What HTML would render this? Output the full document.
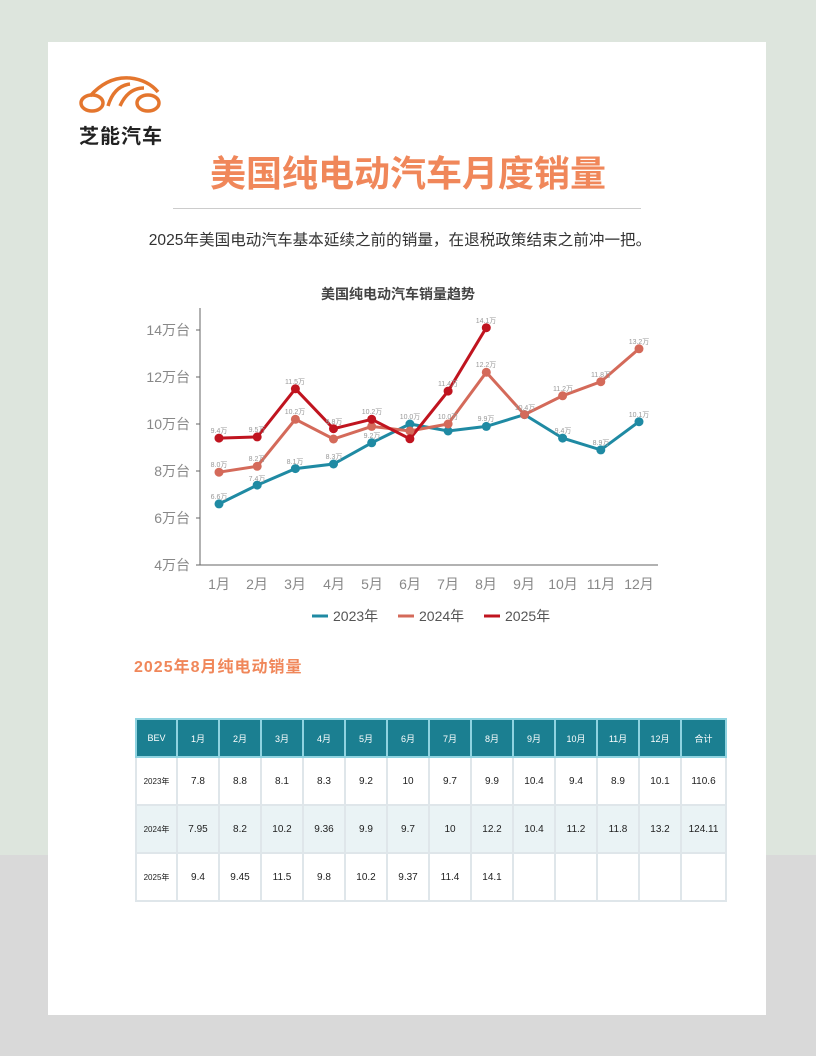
<!DOCTYPE html><html><head><meta charset="utf-8"><style>
body{margin:0;width:816px;height:1056px;position:relative;background:#dde5dd;font-family:"Liberation Sans","Noto Sans CJK SC",sans-serif;overflow:hidden}
.bot{position:absolute;left:0;top:855px;width:816px;height:201px;background:#d9d9d9}
.card{position:absolute;left:48px;top:42px;width:718px;height:973px;background:#fff}
.abs{position:absolute}
table{border-collapse:collapse;table-layout:fixed;position:absolute;left:135px;top:718px;width:590px;font-size:10px;text-align:center}
td{border:2px solid #dfe6ea;padding:0;color:#222}
tr.h td{background:#1b7f91;color:#fff;height:36px;border-color:#8fd3e0;font-size:9px}
tr.r td{height:46px}
tr.g td{background:#eaf3f5}
td.f{font-size:8px}
</style></head><body>
<div class="bot"></div>
<div class="card"></div>
<svg class="abs" style="left:78px;top:74px" width="85" height="40" viewBox="0 0 85 40">
<g fill="none" stroke="#e4762e" stroke-width="3.5">
<path d="M12 22 Q30 2 52 4 Q70 6 80 18"/>
<ellipse cx="14" cy="29" rx="11" ry="8"/><ellipse cx="70" cy="29" rx="11" ry="8"/>
<path d="M30 32 Q36 12 52 10"/><path d="M42 32 Q50 14 66 14"/>
</g></svg>
<div class="abs" style="left:79px;top:120px;font-size:20px;font-weight:bold;color:#222;letter-spacing:1px">芝能汽车</div>
<div class="abs" style="left:0;width:816px;top:145px;text-align:center;font-size:36px;font-weight:bold;color:#f0875a">美国纯电动汽车月度销量</div>
<div class="abs" style="left:173px;top:208px;width:468px;height:1px;background:#ccc"></div>
<div class="abs" style="left:0;width:800px;top:228px;text-align:center;font-size:15.6px;color:#333">2025年美国电动汽车基本延续之前的销量，在退税政策结束之前冲一把。</div>
<svg class="abs" style="left:0;top:0" width="816" height="660">
<text x="398" y="299" text-anchor="middle" font-size="14" font-weight="bold" fill="#444">美国纯电动汽车销量趋势</text>
<g stroke="#666" stroke-width="1"><line x1="200" y1="308" x2="200" y2="565"/><line x1="200" y1="565" x2="658" y2="565"/>
<line x1="196" y1="330" x2="200" y2="330"/><line x1="196" y1="377" x2="200" y2="377"/><line x1="196" y1="424" x2="200" y2="424"/><line x1="196" y1="471" x2="200" y2="471"/><line x1="196" y1="518" x2="200" y2="518"/><line x1="196" y1="565" x2="200" y2="565"/></g>
<g font-size="14" fill="#888" text-anchor="end"><text x="190" y="335">14万台</text><text x="190" y="382">12万台</text><text x="190" y="429">10万台</text><text x="190" y="476">8万台</text><text x="190" y="523">6万台</text><text x="190" y="570">4万台</text></g>
<g font-size="14" fill="#888" text-anchor="middle"><text x="219" y="589">1月</text><text x="257" y="589">2月</text><text x="295" y="589">3月</text><text x="334" y="589">4月</text><text x="372" y="589">5月</text><text x="410" y="589">6月</text><text x="448" y="589">7月</text><text x="486" y="589">8月</text><text x="524" y="589">9月</text><text x="563" y="589">10月</text><text x="601" y="589">11月</text><text x="639" y="589">12月</text></g>
<g fill="none" stroke-width="3">
<polyline stroke="#1f8aa3" points="219,503.9 257.2,485.1 295.4,468.6 333.5,464 371.7,442.8 409.9,424 448.1,431 486.3,426.4 524.5,414.6 562.6,438.1 600.8,449.9 639,421.7"/>
<polyline stroke="#d46a5a" points="219,472.2 257.2,466.3 295.4,419.3 333.5,439 371.7,426.4 409.9,431 448.1,424 486.3,372.3 524.5,414.6 562.6,395.8 600.8,381.7 639,348.8"/>
<polyline stroke="#c0141f" points="219,438.1 257.2,436.9 295.4,388.8 333.5,428.7 371.7,419.3 409.9,438.8 448.1,391.1 486.3,327.7"/>
</g>
<g fill="#1f8aa3"><circle cx="219" cy="503.9" r="4.5"/><circle cx="257.2" cy="485.1" r="4.5"/><circle cx="295.4" cy="468.6" r="4.5"/><circle cx="333.5" cy="464" r="4.5"/><circle cx="371.7" cy="442.8" r="4.5"/><circle cx="409.9" cy="424" r="4.5"/><circle cx="448.1" cy="431" r="4.5"/><circle cx="486.3" cy="426.4" r="4.5"/><circle cx="524.5" cy="414.6" r="4.5"/><circle cx="562.6" cy="438.1" r="4.5"/><circle cx="600.8" cy="449.9" r="4.5"/><circle cx="639" cy="421.7" r="4.5"/></g>
<g fill="#d46a5a"><circle cx="219" cy="472.2" r="4.5"/><circle cx="257.2" cy="466.3" r="4.5"/><circle cx="295.4" cy="419.3" r="4.5"/><circle cx="333.5" cy="439" r="4.5"/><circle cx="371.7" cy="426.4" r="4.5"/><circle cx="409.9" cy="431" r="4.5"/><circle cx="448.1" cy="424" r="4.5"/><circle cx="486.3" cy="372.3" r="4.5"/><circle cx="524.5" cy="414.6" r="4.5"/><circle cx="562.6" cy="395.8" r="4.5"/><circle cx="600.8" cy="381.7" r="4.5"/><circle cx="639" cy="348.8" r="4.5"/></g>
<g fill="#c0141f"><circle cx="219" cy="438.1" r="4.5"/><circle cx="257.2" cy="436.9" r="4.5"/><circle cx="295.4" cy="388.8" r="4.5"/><circle cx="333.5" cy="428.7" r="4.5"/><circle cx="371.7" cy="419.3" r="4.5"/><circle cx="409.9" cy="438.8" r="4.5"/><circle cx="448.1" cy="391.1" r="4.5"/><circle cx="486.3" cy="327.7" r="4.5"/></g>
<g font-size="7" fill="#999" text-anchor="middle">
<text x="219" y="499">6.6万</text><text x="257" y="481">7.4万</text><text x="295" y="464">8.1万</text><text x="334" y="459">8.3万</text><text x="372" y="438">9.2万</text><text x="410" y="419">10.0万</text><text x="486" y="421">9.9万</text><text x="525" y="410">10.4万</text><text x="563" y="433">9.4万</text><text x="601" y="445">8.9万</text><text x="639" y="417">10.1万</text>
<text x="219" y="467">8.0万</text><text x="257" y="461">8.2万</text><text x="295" y="414">10.2万</text><text x="448" y="419">10.0万</text><text x="486" y="367">12.2万</text><text x="563" y="391">11.2万</text><text x="601" y="377">11.8万</text><text x="639" y="344">13.2万</text>
<text x="219" y="433">9.4万</text><text x="257" y="432">9.5万</text><text x="295" y="384">11.5万</text><text x="334" y="424">9.8万</text><text x="372" y="414">10.2万</text><text x="448" y="386">11.4万</text><text x="486" y="323">14.1万</text></g>
<g stroke-width="3"><line x1="312" y1="616" x2="328" y2="616" stroke="#1f8aa3"/><line x1="398" y1="616" x2="414" y2="616" stroke="#d46a5a"/><line x1="484" y1="616" x2="500" y2="616" stroke="#c0141f"/></g>
<g font-size="14" fill="#555"><text x="333" y="621">2023年</text><text x="419" y="621">2024年</text><text x="505" y="621">2025年</text></g>
</svg>
<div class="abs" style="left:134px;top:653px;font-size:16px;font-weight:bold;color:#f0875a;letter-spacing:1px">2025年8月纯电动销量</div>
<table>
<colgroup><col style="width:41px"><col style="width:42px"><col style="width:42px"><col style="width:42px"><col style="width:42px"><col style="width:42px"><col style="width:42px"><col style="width:42px"><col style="width:42px"><col style="width:42px"><col style="width:42px"><col style="width:42px"><col style="width:42px"><col style="width:45px"></colgroup>
<tr class="h"><td>BEV</td><td>1月</td><td>2月</td><td>3月</td><td>4月</td><td>5月</td><td>6月</td><td>7月</td><td>8月</td><td>9月</td><td>10月</td><td>11月</td><td>12月</td><td>合计</td></tr>
<tr class="r"><td class="f">2023年</td><td>7.8</td><td>8.8</td><td>8.1</td><td>8.3</td><td>9.2</td><td>10</td><td>9.7</td><td>9.9</td><td>10.4</td><td>9.4</td><td>8.9</td><td>10.1</td><td>110.6</td></tr>
<tr class="r g"><td class="f">2024年</td><td>7.95</td><td>8.2</td><td>10.2</td><td>9.36</td><td>9.9</td><td>9.7</td><td>10</td><td>12.2</td><td>10.4</td><td>11.2</td><td>11.8</td><td>13.2</td><td>124.11</td></tr>
<tr class="r"><td class="f">2025年</td><td>9.4</td><td>9.45</td><td>11.5</td><td>9.8</td><td>10.2</td><td>9.37</td><td>11.4</td><td>14.1</td><td></td><td></td><td></td><td></td><td></td></tr>
</table>
</body></html>
